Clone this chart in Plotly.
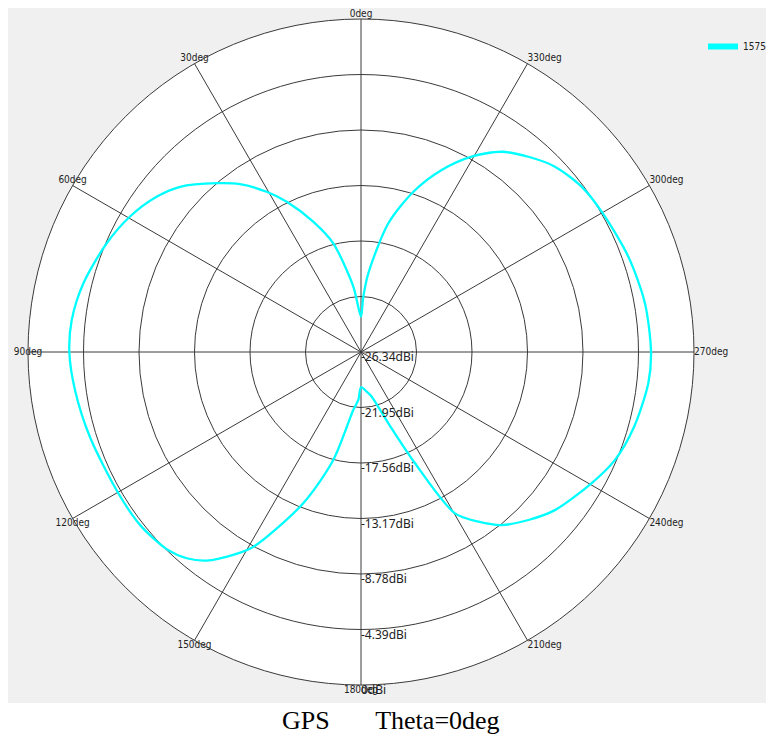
import plotly.graph_objects as go

# ---------------- data ----------------
theta_deg = [0, 4.7, 6.7, 14.3, 20.3, 26.3, 30.5, 35.8, 40.5, 47.6, 52.8, 59.6, 66.9, 76.1, 83.7,
             90, 97.6, 107.4, 120.2, 128.3, 135.5, 139.8, 143.5, 147.8, 151.1, 159.1, 165.6, 172.4,
             176.8, 180, 188.2, 193.5, 201, 205.9, 210.2, 214.7, 219.1, 224.9, 230.8, 240.4, 247.0,
             254.6, 263.8, 270, 279.7, 289.6, 300.2, 306.8, 313.7, 319.4, 324.9, 330.5, 336.1,
             341.9, 348, 354.7, 357.6, 360]
gain_dbi = [-23.55, -22.21, -21.13, -17.47, -15.30, -13.08, -11.63, -9.97, -8.78, -6.96, -6.04,
            -5.16, -4.46, -3.72, -3.32,
            -3.27, -3.52, -3.87, -4.13, -4.15, -4.45, -4.98, -5.81, -7.37, -8.74, -13.53, -17.52,
            -21.71, -22.54, -23.55, -23.17, -22.70, -20.30, -16.56, -11.57, -10.02, -8.70, -7.58,
            -6.55, -5.35, -4.51, -3.95, -3.48, -3.40, -3.55, -3.89, -4.30, -4.53, -5.12, -6.00,
            -6.98, -8.58, -10.59, -13.00, -15.93, -20.09, -21.96, -23.55]
series_name = "1575"

radial_ticks = [-26.34, -21.95, -17.56, -13.17, -8.78, -4.39, 0]
radial_labels = ["-26.34dBi", "-21.95dBi", "-17.56dBi", "-13.17dBi", "-8.78dBi", "-4.39dBi", "0dBi"]
angle_ticks = [0, 30, 60, 90, 120, 150, 180, 210, 240, 270, 300, 330]
angle_labels = ["0deg", "30deg", "60deg", "90deg", "120deg", "150deg", "180deg",
                "210deg", "240deg", "270deg", "300deg", "330deg"]
title_text = "GPS" + "\u00a0" * 7 + "Theta=0deg"

# ---------------- layout geometry ----------------
OFF = 8                      # page body margin of the saved html
W, H = 774 - OFF, 740 - OFF  # figure size so it fits the window
cx, cy, R = 361 - OFF, 352 - OFF, 333
grid_col = "#3a3a3a"
narrow_font = "Liberation Sans Narrow, DejaVu Sans Condensed, Arial Narrow, Liberation Sans, sans-serif"


def px_x(x):
    return (x - OFF) / W


def px_y(y):
    return 1 - (y - OFF) / H


angle_pos = ["top center", "top center", "top center", "middle center", "bottom center",
             "bottom center", "bottom center", "bottom right", "bottom right", "middle right",
             "top right", "top right"]

fig = go.Figure()

fig.add_trace(go.Scatterpolar(
    r=gain_dbi, theta=theta_deg, mode="lines",
    line=dict(color="#00FFFF", width=2.3, shape="spline", smoothing=0.8),
    name=series_name, showlegend=False, hoverinfo="skip"))

# legend entry (thicker sample like the reference)
fig.add_trace(go.Scatterpolar(
    r=[None], theta=[None], mode="lines",
    line=dict(color="#00FFFF", width=6),
    name=series_name, showlegend=True))

# radial tick labels along 180deg line
fig.add_trace(go.Scatterpolar(
    r=radial_ticks, theta=[180] * len(radial_ticks), mode="text",
    text=radial_labels, textposition="bottom right",
    textfont=dict(family="Noto Sans, Open Sans, sans-serif", size=12, color="#222222"),
    showlegend=False, hoverinfo="skip", cliponaxis=False))

# angular tick labels on outer circle
fig.add_trace(go.Scatterpolar(
    r=[0] * len(angle_ticks), theta=angle_ticks, mode="text",
    text=angle_labels, textposition=angle_pos,
    textfont=dict(family=narrow_font, size=10, color="#222222"),
    showlegend=False, hoverinfo="skip", cliponaxis=False))

fig.update_layout(
    width=W, height=H,
    margin=dict(l=0, r=0, t=0, b=0),
    paper_bgcolor="white",
    plot_bgcolor="white",
    polar=dict(
        domain=dict(x=[(cx - R) / W, (cx + R) / W],
                    y=[1 - (cy + R) / H, 1 - (cy - R) / H]),
        bgcolor="white",
        radialaxis=dict(range=[-26.34, 0], tickvals=radial_ticks, showticklabels=False,
                        ticks="", showline=False, showgrid=True, gridcolor=grid_col,
                        gridwidth=1, angle=270),
        angularaxis=dict(rotation=90, direction="counterclockwise", tickvals=angle_ticks,
                         showticklabels=False, ticks="", showgrid=True, gridcolor=grid_col,
                         gridwidth=1, showline=True, linecolor=grid_col, linewidth=1),
    ),
    legend=dict(x=px_x(703), y=px_y(32), xanchor="left", yanchor="top",
                bgcolor="rgba(0,0,0,0)", itemwidth=30,
                font=dict(family=narrow_font, size=10, color="#222222")),
    shapes=[dict(type="rect", xref="paper", yref="paper", layer="below",
                 x0=0, x1=1, y0=px_y(703), y1=1,
                 fillcolor="#F0F0F0", line=dict(width=0))],
    annotations=[dict(text=title_text, xref="paper", yref="paper",
                      x=px_x(391), y=px_y(720), xanchor="center", yanchor="middle",
                      showarrow=False,
                      font=dict(family="Liberation Serif, Times New Roman, serif",
                                size=26, color="black"))],
)

fig.write_html("out.html")
